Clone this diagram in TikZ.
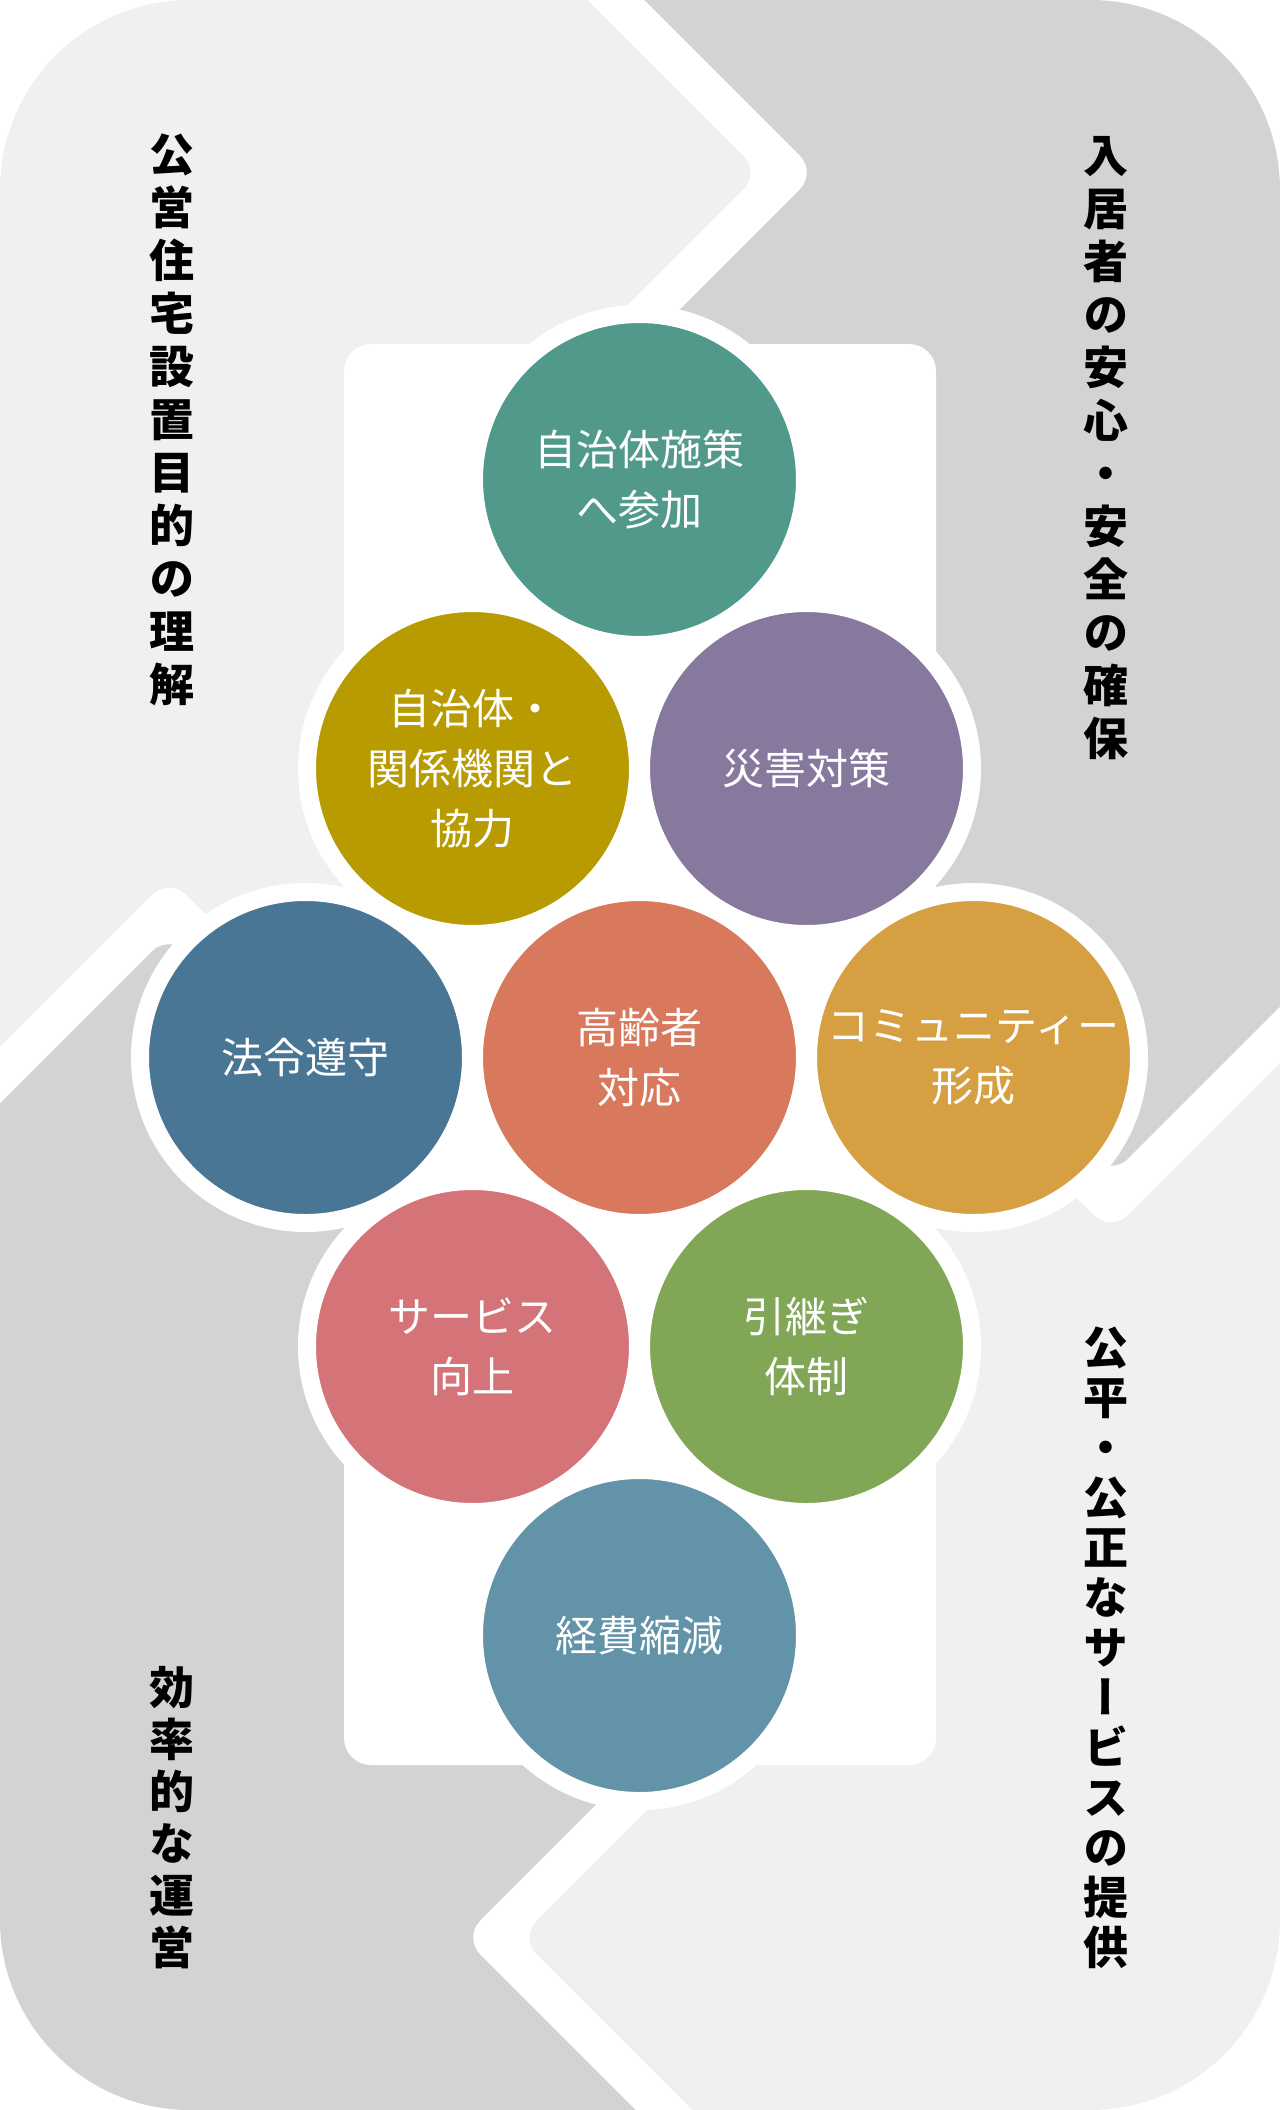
\documentclass[tikz,border=0pt]{standalone}
\usepackage{fontspec}
\usepackage{tikz}
\newfontfamily\jpfont{Noto Sans CJK JP}
\newfontfamily\tatefont[RawFeature=+vert]{Noto Sans CJK JP}
\definecolor{PaleGray}{RGB}{240,240,240}
\definecolor{MidGray}{RGB}{211,211,211}
\definecolor{SoftTeal}{RGB}{80,153,139}
\definecolor{Olive}{RGB}{184,155,0}
\definecolor{Lavender}{RGB}{135,120,157}
\definecolor{SteelBlue}{RGB}{74,118,149}
\definecolor{Coral}{RGB}{216,121,94}
\definecolor{Amber}{RGB}{214,159,66}
\definecolor{Rose}{RGB}{212,115,120}
\definecolor{Leaf}{RGB}{128,166,86}
\definecolor{Slate}{RGB}{99,147,168}
\tikzset{
  topic/.style={circle,fill=#1,draw=white,line width=18pt,minimum size=331pt,
    inner sep=0pt,text=white,align=center,font=\jpfont\fontsize{42}{60}\selectfont},
  sidelabel/.style={inner sep=0pt,align=center,text=black,
    font=\tatefont\bfseries\fontsize{45}{#1}\selectfont},
  sidelabel/.default=53,
  lightarea/.style={fill=PaleGray,rounded corners=24pt},
  darkarea/.style={fill=MidGray,rounded corners=24pt}
}

\begin{document}
\begin{tikzpicture}[x=1pt,y=-1pt]
  \fill[white] (0,0) rectangle (1280,2110);
  \useasboundingbox (0,0) rectangle (1280,2110);
  % background quarters
  \begin{scope}
    \clip[rounded corners=190pt] (0,0) rectangle (1280,2110);
    \fill[lightarea] (-50,-50) -- (537.7,-50) -- (760.2,172.5) -- (520,412.7)
      -- (400,880) -- (250,958.7) -- (169,877.7) -- (-50,1096.7) -- cycle;
    \fill[darkarea] (594.3,-50) -- (816.8,172.5) -- (620,369.3) -- (900,900)
      -- (1060,1124.7) -- (1111,1175.7) -- (1330,956.7) -- (1330,-50) -- cycle;
    \fill[lightarea] (1330,1013.3) -- (1111,1232.3) -- (1040,1161.3) -- (1000,1200)
      -- (920,1150) -- (800,1500) -- (680,1777.3) -- (519.8,1937.5)
      -- (742.3,2160) -- (1330,2160) -- cycle;
    \fill[darkarea] (-50,1153.3) -- (169,934.3) -- (260,1025.3) -- (500,1200)
      -- (650,1750.7) -- (463.2,1937.5) -- (685.7,2160) -- (-50,2160) -- cycle;
  \end{scope}
  % white panel
  \fill[white,rounded corners=27pt] (344,344) rectangle (936,1765);
  % circles
  \node[topic=SoftTeal] (sesaku) at (639.5,479.5) {自治体施策\\へ参加};
  \node[topic=Olive] (kyoryoku) at (472.5,768.5) {自治体・\\関係機関と\\協力};
  \node[topic=Lavender] (saigai) at (806.5,768.5) {災害対策};
  \node[topic=SteelBlue] (horei) at (305.5,1057.5) {法令遵守};
  \node[topic=Coral] (koreisha) at (639.5,1057.5) {高齢者\\対応};
  \node[topic=Amber] (community) at (973.5,1057.5) {コミュニティー\\形成};
  \node[topic=Rose] (service) at (472.5,1346.5) {サービス\\向上};
  \node[topic=Leaf] (hikitsugi) at (806.5,1346.5) {引継ぎ\\体制};
  \node[topic=Slate] (keihi) at (639.5,1635.5) {経費縮減};
  % side labels
  \node[sidelabel,anchor=north] (purpose) at (172,134)
    {公\\営\\住\\宅\\設\\置\\目\\的\\の\\理\\解};
  \node[sidelabel,anchor=north] (safety) at (1106,136)
    {入\\居\\者\\の\\安\\心\\・\\安\\全\\の\\確\\保};
  \node[sidelabel=52,anchor=south] (efficiency) at (172,1969)
    {効\\率\\的\\な\\運\\営};
  \node[sidelabel=50,anchor=south] (fairness) at (1106,1969)
    {公\\平\\・\\公\\正\\な\\サ\\ー\\ビ\\ス\\の\\提\\供};
\end{tikzpicture}
\end{document}
